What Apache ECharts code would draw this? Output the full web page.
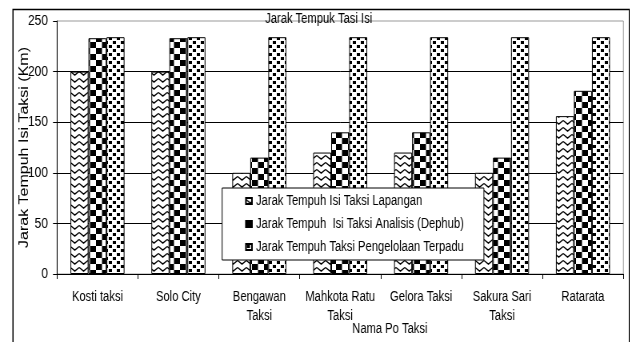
<!DOCTYPE html>
<html>
<head>
<meta charset="utf-8">
<script src="https://cdn.jsdelivr.net/npm/echarts@6/dist/echarts.min.js"></script>
<style>
  html, body { margin: 0; padding: 0; background: #fff; overflow: hidden; }
  /* the original uses a tall narrow typeface: draw wider, then squeeze horizontally */
  #main { width: 788px; height: 342px; transform: scaleX(0.8); transform-origin: 0 0; }
</style>
</head>
<body>
<div id="main"></div>
<script>
var categories = ['Kosti taksi', 'Solo City', 'Bengawan\nTaksi', 'Mahkota Ratu\nTaksi', 'Gelora Taksi', 'Sakura Sari\nTaksi', 'Ratarata'];
var seriesNames = ['Jarak Tempuh Isi Taksi Lapangan', 'Jarak Tempuh  Isi Taksi Analisis (Dephub)', 'Jarak Tempuh Taksi Pengelolaan Terpadu'];
var lapangan = [200, 200, 100, 120, 120, 100, 156];
var analisis = [233, 233, 115, 140, 140, 115, 181];
var terpadu = [234, 234, 234, 234, 234, 234, 234];
var yTicks = [0, 50, 100, 150, 200, 250];

var K = 788 / 630;   // horizontal stretch undone by the css scaleX
function sx(v) { return v * K; }
var font = 'Liberation Sans';

// fill patterns (black & white like the printed chart)
function makeCanvas(w, h) {
    var c = document.createElement('canvas');
    c.width = w; c.height = h;
    return c;
}
function zigzag() {
    var c = makeCanvas(11, 7);
    var g = c.getContext('2d');
    g.fillStyle = '#fff'; g.fillRect(0, 0, 11, 7);
    g.strokeStyle = '#000'; g.lineWidth = 1.4;
    g.beginPath();
    g.moveTo(0, 1.5); g.lineTo(5.5, 5.2); g.lineTo(11, 1.5);
    g.stroke();
    return c;
}
function checker() {
    var c = makeCanvas(15, 12);
    var g = c.getContext('2d');
    g.fillStyle = '#fff'; g.fillRect(0, 0, 15, 12);
    g.fillStyle = '#000';
    g.fillRect(0, 0, 7.5, 6); g.fillRect(7.5, 6, 7.5, 6);
    return c;
}
function dots() {
    var c = makeCanvas(10, 8);
    var g = c.getContext('2d');
    g.fillStyle = '#fff'; g.fillRect(0, 0, 10, 8);
    g.fillStyle = '#000';
    g.fillRect(1, 1, 4, 3); g.fillRect(6, 5, 4, 3);
    return c;
}
function pat(canvas) {
    return { image: canvas, repeat: 'repeat' };
}

var chart = echarts.init(document.getElementById('main'));

var fills = [pat(zigzag()), pat(checker()), pat(dots())];
var datas = [lapangan, analisis, terpadu];
var series = [];
for (var i = 0; i < 3; i++) {
    series.push({
        name: seriesNames[i],
        type: 'bar',
        data: datas[i],
        barWidth: sx(18),
        barGap: '0%',
        itemStyle: { color: fills[i], borderColor: '#000', borderWidth: 1 }
    });
}

var option = {
    animation: false,
    backgroundColor: '#fff',
    title: {
        text: 'Jarak Tempuk Tasi Isi',
        left: sx(265), top: 12, padding: 0,
        textStyle: { fontFamily: font, fontSize: 14, fontWeight: 'normal', color: '#000' }
    },
    legend: {
        orient: 'vertical',
        left: sx(222), top: 188,
        padding: [6, sx(20), 6, sx(23)],
        icon: 'rect',
        itemWidth: sx(6), itemHeight: 6,
        itemGap: 9,
        backgroundColor: '#fff',
        borderColor: '#000', borderWidth: 1,
        textStyle: { fontFamily: font, fontSize: 14, color: '#000' },
        data: seriesNames
    },
    grid: { left: sx(57), right: sx(7), top: 21, bottom: 68, show: true, borderColor: '#999', borderWidth: 1 },
    xAxis: {
        type: 'category',
        data: categories,
        axisLine: { lineStyle: { color: '#000' } },
        axisTick: { show: true, length: 5, lineStyle: { color: '#000' } },
        axisLabel: { color: '#000', fontFamily: font, fontSize: 14, margin: 14, lineHeight: 19, interval: 0 }
    },
    yAxis: {
        type: 'value',
        min: yTicks[0], max: yTicks[yTicks.length - 1], interval: 50,
        name: 'Jarak Tempuh Isi Taksi (Km)',
        nameLocation: 'middle',
        nameGap: 33,
        nameMoveOverlap: false,
        nameTextStyle: { fontFamily: font, fontSize: 16, color: '#000' },
        axisLine: { show: true, lineStyle: { color: '#000' } },
        axisTick: { show: true, length: 5, lineStyle: { color: '#000' } },
        axisLabel: { color: '#000', fontFamily: font, fontSize: 15, margin: sx(9) },
        splitLine: { showMaxLine: false, lineStyle: { color: '#000', width: 1 } }
    },
    graphic: [
        {
            type: 'rect', left: sx(11), top: 7, z: -10, silent: true,
            shape: { width: sx(616), height: 340 },
            style: { fill: 'none', stroke: '#000', lineWidth: 1.5 }
        },
        {
            type: 'text', left: sx(352), top: 322,
            style: { text: 'Nama Po Taksi', fontFamily: font, fontSize: 14, fill: '#000' }
        }
    ],
    series: series
};
chart.setOption(option);
</script>
</body>
</html>
